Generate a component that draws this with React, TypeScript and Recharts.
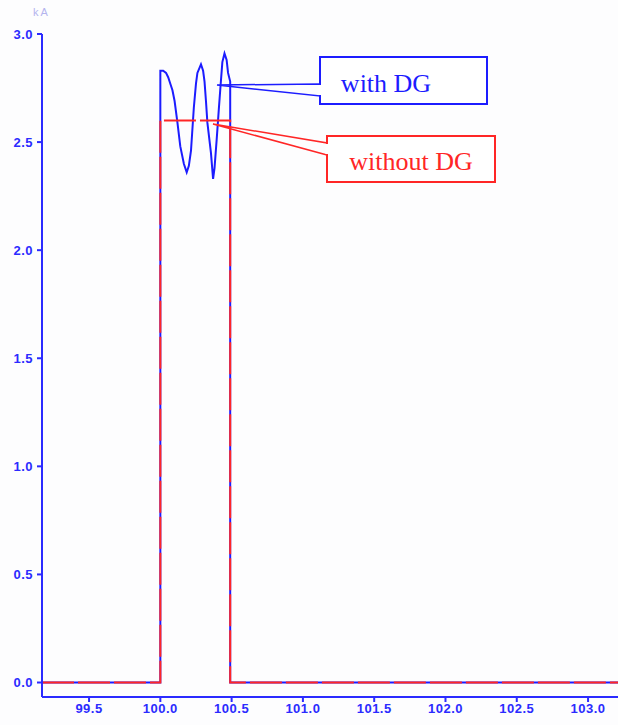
import { LineChart, Line, XAxis, YAxis } from 'recharts';

// time axis in s, current in kA
const X_TICKS = [99.5, 100.0, 100.5, 101.0, 101.5, 102.0, 102.5, 103.0];
const Y_TICKS = [0, 0.5, 1.0, 1.5, 2.0, 2.5, 3.0];

const WITH_DG_T = [
  99.17, 100.0, 100.0, 100.02, 100.04, 100.055, 100.07, 100.085, 100.1, 100.12, 100.14, 100.165,
  100.185, 100.2, 100.215, 100.235, 100.25, 100.26, 100.285, 100.3, 100.31, 100.32, 100.33,
  100.355, 100.37, 100.38, 100.395, 100.41, 100.42, 100.435, 100.45, 100.465, 100.475, 100.49,
  100.49, 103.21,
];
const WITH_DG_I = [
  0, 0, 2.83, 2.83, 2.82, 2.8, 2.77, 2.74, 2.69, 2.59, 2.48, 2.4,
  2.36, 2.39, 2.46, 2.66, 2.77, 2.82, 2.86, 2.83, 2.78, 2.69, 2.59,
  2.45, 2.33, 2.38, 2.51, 2.65, 2.74, 2.87, 2.91, 2.88, 2.82, 2.78,
  0, 0,
];

const WITHOUT_DG_T = [99.17, 100.0, 100.0, 100.49, 100.49, 103.21];
const WITHOUT_DG_I = [0, 0, 2.6, 2.6, 0, 0];

const withDg = WITH_DG_T.map((t, i) => ({ t, i: WITH_DG_I[i] }));
const withoutDg = WITHOUT_DG_T.map((t, i) => ({ t, i: WITHOUT_DG_I[i] }));

const AXIS = '#2b2bff';
const BLUE = '#1c1cff';
const RED = '#ff2626';
const tickStyle = {
  fill: AXIS,
  fontSize: 13,
  fontWeight: 'bold',
  letterSpacing: 0.5,
  fontFamily: 'Liberation Sans, Arial, sans-serif',
};

function Callouts() {
  return (
    <svg
      width={618}
      height={725}
      style={{ position: 'absolute', left: 0, top: 0, pointerEvents: 'none' }}
    >
      <text x={33} y={16} fontSize={11} letterSpacing={2} fill="#b4b4ee" fontFamily="Liberation Sans, Arial, sans-serif">
        kA
      </text>
      <polygon points="217,85 320,84 320,96" fill="none" stroke={BLUE} strokeWidth={1.5} />
      <rect x={320} y={57} width={167} height={47} fill="#fff" stroke={BLUE} strokeWidth={2} />
      <line x1={320} y1={85} x2={320} y2={95} stroke="#fff" strokeWidth={3} />
      <text x={386} y={92} fontSize={26} fill={BLUE} textAnchor="middle" fontFamily="Liberation Serif, Times New Roman, serif">
        with DG
      </text>
      <polygon points="213,124 327,143 327,155" fill="none" stroke={RED} strokeWidth={1.5} />
      <rect x={327} y={136} width={168} height={46} fill="#fff" stroke={RED} strokeWidth={2} />
      <line x1={327} y1={144} x2={327} y2={154} stroke="#fff" strokeWidth={3} />
      <text x={411} y={170} fontSize={26} fill={RED} textAnchor="middle" fontFamily="Liberation Serif, Times New Roman, serif">
        without DG
      </text>
    </svg>
  );
}

export default function App() {
  return (
    <div style={{ position: 'absolute', left: 0, top: 0, width: 618, height: 725, background: '#fdfdfe' }}>
      <LineChart width={618} height={725} margin={{ top: 34, right: 0, bottom: 0, left: 0 }}>
        <XAxis
          dataKey="t"
          type="number"
          domain={[99.17, 103.21]}
          ticks={X_TICKS}
          allowDataOverflow
          height={28}
          stroke={AXIS}
          strokeWidth={2}
          tickSize={5}
          tickMargin={2}
          tick={tickStyle}
          tickFormatter={(v: number) => v.toFixed(1)}
        />
        <YAxis
          type="number"
          domain={[-0.067, 3.0]}
          ticks={Y_TICKS}
          allowDataOverflow
          width={42}
          stroke={AXIS}
          strokeWidth={2}
          tickSize={5}
          tickMargin={4}
          tick={tickStyle}
          tickFormatter={(v: number) => v.toFixed(1)}
        />
        <Line
          data={withDg}
          dataKey="i"
          type="linear"
          stroke={BLUE}
          strokeWidth={2}
          dot={false}
          isAnimationActive={false}
        />
        <Line
          data={withoutDg}
          dataKey="i"
          type="linear"
          stroke={RED}
          strokeWidth={2}
          strokeDasharray="32 4"
          dot={false}
          isAnimationActive={false}
        />
      </LineChart>
      <Callouts />
    </div>
  );
}
